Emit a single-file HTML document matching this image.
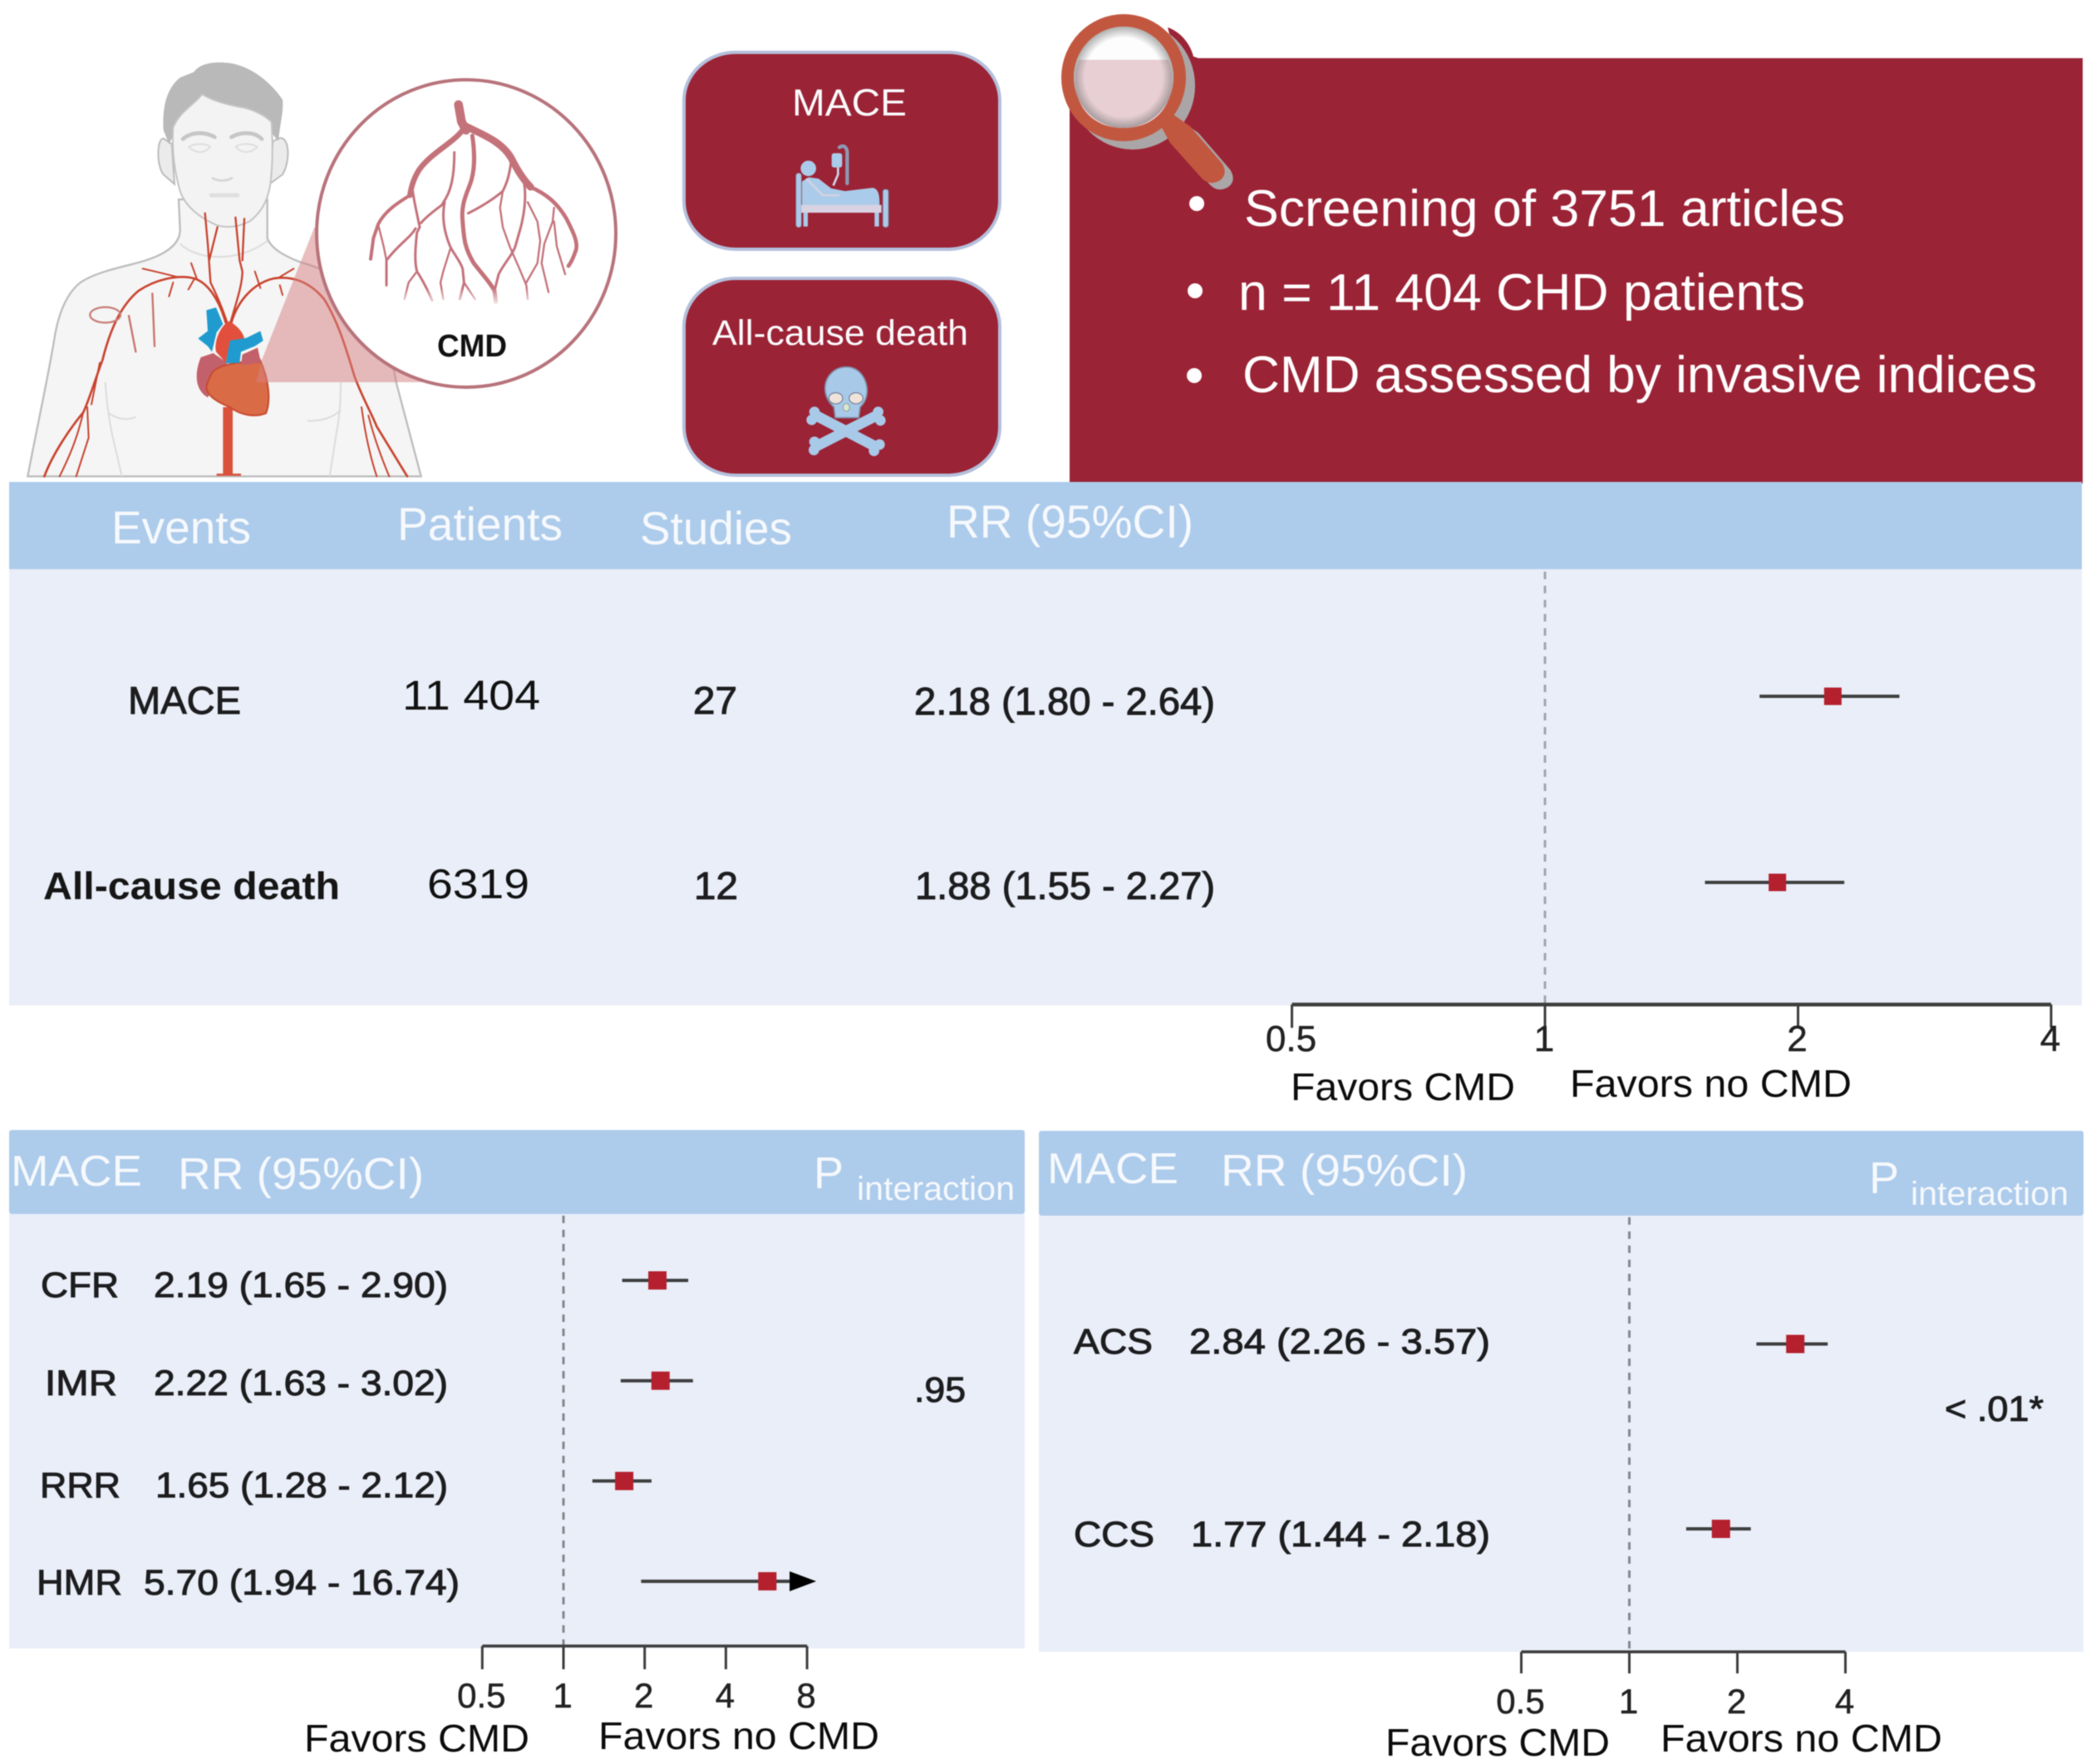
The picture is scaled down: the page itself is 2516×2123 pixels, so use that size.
<!DOCTYPE html>
<html lang="en">
<head>
<meta charset="utf-8">
<title>CMD forest plot summary</title>
<style>
html,body{margin:0;padding:0;background:#fff;width:2516px;height:2123px;overflow:hidden}
svg{display:block;filter:blur(.5px)}
text{font-family:"Liberation Sans",sans-serif}
.hd{fill:#f6f9fd}
.dk{fill:#1d1d1f;stroke:#1d1d1f;stroke-width:1}
.fv{fill:#0c0c0c;font-size:46px}
</style>
</head>
<body>
<svg id="figure" xmlns="http://www.w3.org/2000/svg" width="2516" height="2123" viewBox="0 0 2516 2123">
<defs>
  <radialGradient id="glassEdge" cx="50%" cy="50%" r="50%">
    <stop offset="78%" stop-color="#707070" stop-opacity="0"/>
    <stop offset="100%" stop-color="#707070" stop-opacity=".55"/>
  </radialGradient>
  <linearGradient id="treeFade" x1="0" y1="0" x2="0" y2="1">
    <stop offset="0" stop-color="#fff" stop-opacity="0"/>
    <stop offset="1" stop-color="#fff" stop-opacity="1"/>
  </linearGradient>
</defs>

<!-- Illustration: coordinates in a 3x local grid -->
<g>
  <g transform="translate(20 60) scale(.33333)">
    <path d="M40 1540 C70 1380 110 1200 135 1050 C150 950 180 880 230 840 C290 800 380 785 450 765 C520 745 590 710 590 650 L585 540 L905 540 L905 680 C920 720 970 745 1020 765 C1250 830 1330 960 1370 1200 L1460 1540 Z" fill="#f5f5f5" stroke="#bdbdbd" stroke-width="7"/>
    <path d="M320 1200 C325 1280 335 1340 345 1390 L380 1540 M1170 1200 C1170 1270 1165 1330 1155 1380 L1130 1540 M330 1310 C370 1340 410 1335 430 1325 M1050 1340 C1100 1340 1140 1330 1170 1300 M590 700 C650 760 800 770 905 690" fill="none" stroke="#dcdcdc" stroke-width="6"/>
    <path d="M530 320 C505 320 505 420 530 450 L570 485 L560 340 Z" fill="#ebebeb" stroke="#bcbcbc" stroke-width="6"/>
    <path d="M945 320 C985 305 990 400 960 450 L912 485 L925 330 Z" fill="#ebebeb" stroke="#bcbcbc" stroke-width="6"/>
    <path d="M530 290 C525 210 540 140 590 100 L640 80 C660 50 710 40 770 48 C850 60 920 120 960 180 C965 220 950 270 945 330 L920 300 L560 320 L550 340 Z" fill="#b9b9b9"/>
    <path d="M565 280 C590 220 640 200 670 160 C700 180 750 195 800 205 C850 210 900 240 920 260 C925 340 925 420 915 490 C905 550 880 590 840 620 C800 640 760 645 720 632 C670 610 610 570 590 510 C570 440 560 360 565 280 Z" fill="#f3f3f3" stroke="#c4c4c4" stroke-width="6"/>
    <path d="M600 322 C630 295 680 295 715 315 M775 315 C810 295 860 295 885 322" fill="none" stroke="#c6c6c6" stroke-width="14" stroke-linecap="round"/>
    <path d="M620 350 C650 378 680 372 700 350 M790 350 C810 372 840 378 870 350 M620 350 C650 335 680 338 700 350 M790 350 C810 338 840 335 870 350" fill="none" stroke="#dedede" stroke-width="6"/>
    <path d="M705 462 Q740 482 780 462" fill="none" stroke="#d4d4d4" stroke-width="8"/>
    <path d="M702 525 L798 525" stroke="#dfdfdf" stroke-width="14" stroke-linecap="round"/>
    <g fill="none" stroke="#c9432f" stroke-linecap="round" stroke-linejoin="round">
      <path stroke-width="7" d="M680 590 L690 700 L700 840 C720 880 745 940 760 985 M725 640 L695 760 M790 605 L805 760 L815 800 C815 850 790 920 772 985 M822 610 L815 760"/>
      <path stroke-width="8" d="M755 985 C730 900 690 840 640 825 C580 810 500 830 440 870 C380 920 340 1000 310 1120 C280 1200 260 1270 240 1310 C190 1370 130 1460 100 1540"/>
      <path stroke-width="8" d="M775 985 C800 900 860 840 930 825 C1000 815 1060 840 1110 900 C1160 980 1190 1080 1220 1180 C1250 1260 1280 1310 1300 1360 L1410 1540"/>
      <path stroke-width="6" d="M240 1310 C220 1400 190 1470 155 1540 M255 1290 L260 1400 L215 1540 M1245 1290 C1260 1400 1280 1480 1300 1540 M1270 1320 C1290 1400 1320 1480 1345 1540 M300 1130 L270 1280"/>
      <path stroke-width="6" d="M455 790 C500 800 540 810 580 820 M630 770 L650 825 M620 865 L640 830 M550 890 L565 840 M860 800 L880 860 M950 850 L960 885 M950 820 L1000 790"/>
      <path stroke-width="7" stroke="#c9736a" d="M490 880 L498 1070 M405 960 L430 1090"/>
      <ellipse cx="320" cy="957" rx="55" ry="28" stroke-width="7" stroke="#c8807a"/>
    </g>
    <rect x="745" y="1290" width="35" height="245" fill="#d9533c"/>
    <rect x="722" y="1530" width="88" height="8" fill="#d9533c"/>
    <path d="M665 1110 C640 1170 645 1230 690 1255 L760 1130 L710 1095 Z" fill="#c2616b"/>
    <path d="M705 1165 C740 1130 810 1130 878 1118 C912 1190 918 1270 900 1312 C860 1328 810 1320 770 1290 C720 1270 670 1240 690 1200 Z" fill="#d96b47" stroke="#c84a2e" stroke-width="6"/>
    <path d="M720 1090 C710 1040 750 980 770 980 C800 1000 830 1030 820 1060 L770 1060 L755 1130 Z" fill="#e2503d"/>
    <path d="M815 1100 L870 1075 L882 1130 L810 1138 Z" fill="#c4606a"/>
    <path d="M685 940 L720 930 L745 990 L722 1020 L705 1090 L690 1070 L655 1042 L690 1015 Z" fill="#1f9bcf"/>
    <path d="M770 1050 L830 1040 L880 1015 L890 1050 L860 1070 L810 1090 L805 1130 L755 1132 Z" fill="#1f9bcf"/>
    <path d="M1075 640 L885 1120 L865 1200 L1500 1200 Z" fill="#d68282" fill-opacity=".52"/>
  </g>
  <ellipse cx="561" cy="281" rx="180" ry="185" fill="#fff" stroke="#b8737b" stroke-width="4"/>
  <g transform="translate(430 110) scale(.33333)" fill="none" stroke="#c4727a" stroke-linecap="round" stroke-linejoin="round">
    <path d="M365 48 L376 110 L392 140" stroke-width="32"/>
    <path d="M390 125 C450 155 520 180 555 240 C580 290 600 320 625 345" stroke-width="26"/>
    <path d="M625 345 C680 370 720 400 755 460 C780 510 795 540 790 570 C780 600 770 620 762 630" stroke-width="14"/>
    <path d="M380 140 C340 190 270 220 225 280 C205 310 195 340 190 375" stroke-width="20"/>
    <path d="M190 375 C150 400 100 430 75 480 L58 530 L48 605" stroke-width="12"/>
    <path d="M415 160 C425 230 425 290 405 340 C385 390 375 420 380 470 C385 540 390 570 420 620 C450 660 480 690 495 720 L500 760" stroke-width="15"/>
    <path stroke-width="9" d="M350 220 C350 280 345 340 320 385 L305 410 C280 430 250 450 230 475 M200 360 C205 400 215 440 225 490 L215 510 C210 560 205 610 215 650 C235 680 255 720 270 755 M210 495 C190 530 150 550 105 610 L105 700 M400 440 C440 420 490 390 525 360 C540 330 550 300 555 250 M600 320 C610 370 605 430 590 490 L570 560 C560 590 530 620 510 660 L495 720 M315 400 C305 450 310 500 335 560 C350 590 370 610 380 640 L385 690 L370 750"/>
    <path stroke-width="7" d="M215 650 L185 690 L170 750 M75 480 L95 560 L105 610 M385 690 L425 750 M335 570 L310 650 L300 690 L310 750 M525 360 L515 420 L525 490 L550 560 L585 640 L610 700 L615 750 M615 400 L650 470 L660 540 L650 620 L610 690 M710 420 L705 470 L675 550 L665 620 L690 725 M710 470 L720 560 L750 660"/>
    <rect x="130" y="710" width="540" height="70" fill="url(#treeFade)" stroke="none"/>
  </g>
  <text x="526" y="429" textLength="84" lengthAdjust="spacingAndGlyphs" font-size="38" font-weight="700" fill="#111">CMD</text>
</g>

<!-- Outcome boxes -->
<g>
  <rect x="823" y="63" width="380" height="237" rx="62" ry="58" fill="#9b2336" stroke="#b4c0dc" stroke-width="4"/>
  <text x="953" y="139" textLength="138" lengthAdjust="spacingAndGlyphs" font-size="45" fill="#fbfbfd">MACE</text>
  <g transform="translate(940 160) scale(.33333)">
    <path d="M210 52 C228 40 238 55 238 72 L238 182" fill="none" stroke="#8d98b2" stroke-width="13" stroke-linecap="round"/>
    <rect x="54" y="146" width="18" height="194" rx="8" fill="#aacbe9" stroke="#9aa4bc" stroke-width="3"/>
    <rect x="367" y="204" width="20" height="136" rx="8" fill="#aacbe9" stroke="#7f8aa5" stroke-width="3"/>
    <path d="M75 175 L100 160 L135 165 L180 200 L230 210 L330 198 C350 200 355 225 355 250 L355 262 L75 262 Z" fill="#aacbe9"/>
    <circle cx="98" cy="128" r="28" fill="#aacbe9"/>
    <rect x="182" y="73" width="38" height="52" rx="9" fill="#aacbe9"/>
    <path d="M205 125 L205 150 L188 190" fill="none" stroke="#ccd8e8" stroke-width="8"/>
    <path d="M90 165 L150 225 L210 225" fill="none" stroke="#cfd3e2" stroke-width="8"/>
    <rect x="72" y="260" width="290" height="28" fill="#d9d2e2"/>
    <path d="M88 288 L88 338 M345 288 L345 338" fill="none" stroke="#aacbe9" stroke-width="16"/>
  </g>
</g>
<g>
  <rect x="823" y="335" width="380" height="237" rx="62" ry="58" fill="#9b2336" stroke="#b4c0dc" stroke-width="4"/>
  <text x="857" y="415" textLength="308" lengthAdjust="spacingAndGlyphs" font-size="43" fill="#fbfbfd">All-cause death</text>
  <g transform="translate(950 430) scale(.33333)">
    <path d="M95 210 L310 322 M315 210 L95 322" stroke="#a9c9e8" stroke-width="38" fill="none"/>
    <g fill="#a9c9e8">
      <circle cx="90" cy="197" r="19"/>
      <circle cx="80" cy="226" r="19"/>
      <circle cx="320" cy="197" r="19"/>
      <circle cx="328" cy="228" r="19"/>
      <circle cx="90" cy="305" r="19"/>
      <circle cx="88" cy="335" r="19"/>
      <circle cx="325" cy="315" r="19"/>
      <circle cx="305" cy="338" r="19"/>
    </g>
    <path d="M205 35 C260 35 282 90 280 125 C278 155 265 170 255 180 L250 218 L165 218 L160 180 C140 160 128 140 128 110 C130 70 160 35 205 35 Z" fill="#a9c9e8" stroke="#7f8fa8" stroke-width="5"/>
    <ellipse cx="167" cy="148" rx="25" ry="20" fill="#f0e4da" stroke="#7c89a3" stroke-width="4"/>
    <ellipse cx="240" cy="148" rx="25" ry="20" fill="#f0e4da" stroke="#7c89a3" stroke-width="4"/>
    <ellipse cx="205" cy="181" rx="12" ry="14" fill="#d9e6d6" stroke="#8fa090" stroke-width="3"/>
  </g>
</g>

<!-- Search box -->
<g>
  <rect x="1287" y="70" width="1219" height="512" fill="#9b2336"/>
  <path d="M1405 33 C1420 38 1432 52 1436 68 L1445 71 L1415 71 Z" fill="#9b2336"/>
  <g>
    <ellipse cx="1363" cy="103" rx="75" ry="77" fill="#aaa6a7"/>
    <path transform="translate(10 8)" d="M1397 152 L1412 138 L1432 152 L1470 196 C1478 208 1472 218 1460 220 C1452 221 1447 216 1442 210 L1408 172 Z" fill="#aaa6a7"/>
    <path d="M1397 152 L1412 138 L1432 152 L1470 196 C1478 208 1472 218 1460 220 C1452 221 1447 216 1442 210 L1408 172 Z" fill="#c2573f"/>
    <ellipse cx="1352" cy="93.5" rx="75" ry="76.5" fill="#c2573f"/>
    <ellipse cx="1352" cy="93" rx="60" ry="61" fill="#fdfdfd"/>
    <path d="M1298 72 L1406 72 C1418 100 1408 154 1352 154 C1296 154 1286 100 1298 72 Z" fill="#e8cfd3"/>
    <ellipse cx="1352" cy="93" rx="60" ry="61" fill="url(#glassEdge)"/>
  </g>
  <circle cx="1440" cy="245" r="9" fill="#fff"/>
  <text x="1497" y="272" textLength="723" lengthAdjust="spacingAndGlyphs" font-size="62" fill="#fff">Screening of 3751 articles</text>
  <circle cx="1438" cy="350" r="9" fill="#fff"/>
  <text x="1490" y="373" textLength="682" lengthAdjust="spacingAndGlyphs" font-size="62" fill="#fff">n = 11 404 CHD patients</text>
  <circle cx="1437" cy="452" r="9" fill="#fff"/>
  <text x="1495" y="472" textLength="956" lengthAdjust="spacingAndGlyphs" font-size="62" fill="#fff">CMD assessed by invasive indices</text>
</g>

<!-- Top table -->
<g>
  <rect x="11" y="685" width="2494" height="525" fill="#e9eef8"/>
  <rect x="11" y="580" width="2494" height="105" fill="#adcbeb"/>
  <text class="hd" x="134" y="654" textLength="168" lengthAdjust="spacingAndGlyphs" font-size="56">Events</text>
  <text class="hd" x="478" y="650" textLength="199" lengthAdjust="spacingAndGlyphs" font-size="56">Patients</text>
  <text class="hd" x="770" y="655" textLength="183" lengthAdjust="spacingAndGlyphs" font-size="56">Studies</text>
  <text class="hd" x="1139" y="647" textLength="297" lengthAdjust="spacingAndGlyphs" font-size="56">RR (95%CI)</text>
  <text class="dk" x="154" y="859" textLength="136" lengthAdjust="spacingAndGlyphs" font-size="46">MACE</text>
  <text x="484" y="854" textLength="166" lengthAdjust="spacingAndGlyphs" font-size="50" fill="#111">11 404</text>
  <text class="dk" x="834" y="859" textLength="53" lengthAdjust="spacingAndGlyphs" font-size="46">27</text>
  <text class="dk" x="1100" y="860" textLength="362" lengthAdjust="spacingAndGlyphs" font-size="46">2.18 (1.80 - 2.64)</text>
  <text x="52" y="1082" textLength="357" lengthAdjust="spacingAndGlyphs" font-size="46" font-weight="700" fill="#161616">All-cause death</text>
  <text x="514" y="1081" textLength="123" lengthAdjust="spacingAndGlyphs" font-size="50" fill="#111">6319</text>
  <text class="dk" x="835" y="1082" textLength="53" lengthAdjust="spacingAndGlyphs" font-size="46">12</text>
  <text class="dk" x="1101" y="1082" textLength="361" lengthAdjust="spacingAndGlyphs" font-size="46">1.88 (1.55 - 2.27)</text>
  <text class="fv" x="1553" y="1324" textLength="270" lengthAdjust="spacingAndGlyphs">Favors CMD</text>
  <text class="fv" x="1889" y="1320" textLength="339" lengthAdjust="spacingAndGlyphs">Favors no CMD</text>
  <g id="overall-plot"></g>
</g>

<!-- Left subgroup -->
<g>
  <rect x="11" y="1461" width="1222" height="523" fill="#e9eef8"/>
  <rect x="11" y="1360" width="1222" height="101" rx="3" fill="#adcbeb"/>
  <text class="hd" x="13" y="1427" textLength="158" lengthAdjust="spacingAndGlyphs" font-size="52">MACE</text>
  <text class="hd" x="214" y="1431" textLength="296" lengthAdjust="spacingAndGlyphs" font-size="54">RR (95%CI)</text>
  <text class="hd" x="979" y="1430" font-size="54">P</text>
  <text class="hd" x="1031" y="1444" textLength="190" lengthAdjust="spacingAndGlyphs" font-size="40">interaction</text>
  <text class="dk" x="49" y="1561" textLength="94" lengthAdjust="spacingAndGlyphs" font-size="43">CFR</text>
  <text class="dk" x="185" y="1561" textLength="354" lengthAdjust="spacingAndGlyphs" font-size="43">2.19 (1.65 - 2.90)</text>
  <text class="dk" x="54" y="1679" textLength="87" lengthAdjust="spacingAndGlyphs" font-size="43">IMR</text>
  <text class="dk" x="185" y="1679" textLength="354" lengthAdjust="spacingAndGlyphs" font-size="43">2.22 (1.63 - 3.02)</text>
  <text class="dk" x="48" y="1802" textLength="97" lengthAdjust="spacingAndGlyphs" font-size="43">RRR</text>
  <text class="dk" x="187" y="1802" textLength="352" lengthAdjust="spacingAndGlyphs" font-size="43">1.65 (1.28 - 2.12)</text>
  <text class="dk" x="44" y="1919" textLength="103" lengthAdjust="spacingAndGlyphs" font-size="43">HMR</text>
  <text class="dk" x="173" y="1919" textLength="380" lengthAdjust="spacingAndGlyphs" font-size="43">5.70 (1.94 - 16.74)</text>
  <text class="dk" x="1100" y="1687" textLength="62" lengthAdjust="spacingAndGlyphs" font-size="43">.95</text>
  <text class="fv" x="366" y="2108" textLength="271" lengthAdjust="spacingAndGlyphs">Favors CMD</text>
  <text class="fv" x="720" y="2105" textLength="338" lengthAdjust="spacingAndGlyphs">Favors no CMD</text>
  <g id="index-plot"></g>
</g>

<!-- Right subgroup -->
<g>
  <rect x="1250" y="1463" width="1257" height="525" fill="#e9eef8"/>
  <rect x="1250" y="1361" width="1257" height="102" rx="3" fill="#adcbeb"/>
  <text class="hd" x="1260" y="1424" textLength="158" lengthAdjust="spacingAndGlyphs" font-size="52">MACE</text>
  <text class="hd" x="1469" y="1427" textLength="297" lengthAdjust="spacingAndGlyphs" font-size="54">RR (95%CI)</text>
  <text class="hd" x="2249" y="1436" font-size="54">P</text>
  <text class="hd" x="2299" y="1450" textLength="190" lengthAdjust="spacingAndGlyphs" font-size="40">interaction</text>
  <text class="dk" x="1292" y="1629" textLength="95" lengthAdjust="spacingAndGlyphs" font-size="43">ACS</text>
  <text class="dk" x="1431" y="1629" textLength="362" lengthAdjust="spacingAndGlyphs" font-size="43">2.84 (2.26 - 3.57)</text>
  <text class="dk" x="1292" y="1861" textLength="97" lengthAdjust="spacingAndGlyphs" font-size="43">CCS</text>
  <text class="dk" x="1433" y="1861" textLength="360" lengthAdjust="spacingAndGlyphs" font-size="43">1.77 (1.44 - 2.18)</text>
  <text class="dk" x="2340" y="1710" textLength="119" lengthAdjust="spacingAndGlyphs" font-size="43">&lt; .01*</text>
  <text class="fv" x="1667" y="2113" textLength="270" lengthAdjust="spacingAndGlyphs">Favors CMD</text>
  <text class="fv" x="1998" y="2108" textLength="339" lengthAdjust="spacingAndGlyphs">Favors no CMD</text>
  <g id="presentation-plot"></g>
</g>
</svg>

<script>
// Overall panel
const overallCategories = ['mace', 'all-cause-death'];
const overallRR = [2.20, 1.89];
const overallLower = [1.80, 1.55];
const overallUpper = [2.64, 2.27];
const overallTicks = [0.5, 1, 2, 4];
const overallTickLabels = ['0.5', '1', '2', '4'];

// Index subgroup panel
const indexCategories = ['cfr', 'imr', 'rrr', 'hmr'];
const indexRR = [2.23, 2.29, 1.68, 5.70];
const indexLower = [1.65, 1.63, 1.28, 1.94];
const indexUpper = [2.90, 3.02, 2.12, 16.74];
const indexTicks = [0.5, 1, 2, 4, 8];
const indexTickLabels = ['0.5', '1', '2', '4', '8'];

// Clinical presentation subgroup panel
const presentationCategories = ['acs', 'ccs'];
const presentationRR = [2.90, 1.80];
const presentationLower = [2.26, 1.44];
const presentationUpper = [3.57, 2.18];
const presentationTicks = [0.5, 1, 2, 4];
const presentationTickLabels = ['0.5', '1', '2', '4'];

const SVG_NS = 'http://www.w3.org/2000/svg';

function makeEl(tag, attrs, parent) {
  const el = document.createElementNS(SVG_NS, tag);
  Object.keys(attrs).forEach(function (k) { el.setAttribute(k, attrs[k]); });
  parent.appendChild(el);
  return el;
}

function logScale(x1, pxPerDoubling) {
  return function (v) { return x1 + pxPerDoubling * Math.log2(v); };
}

function rowScale(first, step) {
  return function (i) { return first + i * step; };
}

function drawAxis(parent, xScale, ticks, labels, o) {
  const ref = makeEl('line', { x1: xScale(1), x2: xScale(1), y1: o.refTop, y2: o.axisY, stroke: o.refColor, 'stroke-width': 3, 'stroke-dasharray': '9 8' }, parent);
  
  

  const axis = makeEl('line', { x1: xScale(ticks[0]), x2: xScale(ticks[ticks.length - 1]), y1: o.axisY, y2: o.axisY, stroke: '#3d3d3d', 'stroke-width': o.axisWidth }, parent);
  
  

  ticks.forEach(function (t, i) {
    const tick = makeEl('line', { x1: xScale(t), x2: xScale(t), y1: o.axisY, y2: o.axisY + o.tickLen, stroke: '#3d3d3d', 'stroke-width': 3 }, parent);
    
    

    const label = makeEl('text', { x: xScale(t) - 1, y: o.labelY, 'text-anchor': 'middle', 'font-size': o.labelSize, fill: '#222', stroke: '#222', 'stroke-width': 0.5 }, parent);
    label.textContent = labels[i];
    
    
  });
}

function drawRows(parent, xScale, yScale, cats, rr, lower, upper, axisMax, o) {
  cats.forEach(function (cat, i) {
    const y = yScale(i);
    const clipped = upper[i] > axisMax;
    const arrowBase = xScale(axisMax) - 21;
    const x2 = clipped ? arrowBase : xScale(upper[i]);

    const ci = makeEl('line', { x1: xScale(lower[i]), x2: x2, y1: y, y2: y, stroke: '#3f3f3f', 'stroke-width': o.lineWidth }, parent);
    
    

    if (clipped) {
      const tip = xScale(axisMax) + 11;
      const arrow = makeEl('path', { d: 'M' + arrowBase + ' ' + (y - 12) + ' L' + tip + ' ' + y + ' L' + arrowBase + ' ' + (y + 12) + ' Z', fill: '#000' }, parent);
      
      
    }

    const marker = makeEl('rect', { x: xScale(rr[i]) - o.size / 2, y: y - o.size / 2, width: o.size, height: o.size, fill: '#b5202e' }, parent);
    
    
  });
}

const overallPlot = document.getElementById('overall-plot');
const overallX = logScale(1859, 304.5);
const overallY = rowScale(838, 224);
drawAxis(overallPlot, overallX, overallTicks, overallTickLabels, { refTop: 688, axisY: 1209, tickLen: 28, labelY: 1265, labelSize: 44, axisWidth: 4.5, refColor: '#a2a5ac' });
drawRows(overallPlot, overallX, overallY, overallCategories, overallRR, overallLower, overallUpper, 4, { size: 21, lineWidth: 4 });

const indexPlot = document.getElementById('index-plot');
const indexX = logScale(678, 97.7);
const indexY = rowScale(1541, 120.7);
drawAxis(indexPlot, indexX, indexTicks, indexTickLabels, { refTop: 1463, axisY: 1981, tickLen: 28, labelY: 2055, labelSize: 42, axisWidth: 3.5, refColor: '#84878d' });
drawRows(indexPlot, indexX, indexY, indexCategories, indexRR, indexLower, indexUpper, 8, { size: 22, lineWidth: 4 });

const presentationPlot = document.getElementById('presentation-plot');
const presentationX = logScale(1960.5, 130);
const presentationY = rowScale(1617.5, 222.5);
drawAxis(presentationPlot, presentationX, presentationTicks, presentationTickLabels, { refTop: 1465, axisY: 1988, tickLen: 26, labelY: 2062, labelSize: 42, axisWidth: 3.5, refColor: '#84878d' });
drawRows(presentationPlot, presentationX, presentationY, presentationCategories, presentationRR, presentationLower, presentationUpper, 4, { size: 22, lineWidth: 4 });
</script>
</body>
</html>
